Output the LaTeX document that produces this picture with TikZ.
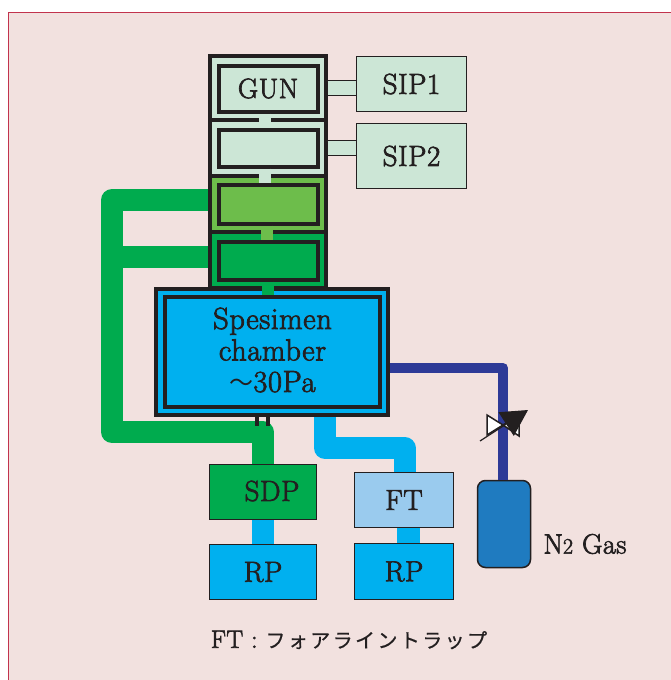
\documentclass[tikz,border=0pt]{standalone}
\usepackage{fontspec}
\usetikzlibrary{arrows.meta}
\setmainfont{Latin Modern Roman}[FakeBold=2.5,LetterSpace=2]
\newfontfamily\cjk{Noto Sans CJK JP}
\newfontfamily\cjknote{Noto Sans CJK JP}[LetterSpace=12,FakeBold=0.6]
\definecolor{ink}{HTML}{231F20}
\definecolor{paper}{HTML}{F2E1DF}
\definecolor{edge}{HTML}{C2334D}
\definecolor{pale}{HTML}{CCE6D6}
\definecolor{leaf}{HTML}{6DBD4B}
\definecolor{pump}{HTML}{00AB4E}
\definecolor{sky}{HTML}{00B0EF}
\definecolor{trap}{HTML}{9ACBEE}
\definecolor{navy}{HTML}{2E3A97}
\definecolor{tank}{HTML}{1F7BC0}
\tikzset{
  box/.style={draw=ink,line width=4pt,inner sep=0pt,text=ink},
  unit/.style={draw=ink,line width=1.5pt,inner sep=0pt,text=ink,font=\fontsize{29}{32}\selectfont},
  pipe/.style={line join=round,line width=#1},
  plug/.style={line width=12pt},
  word/.style={text=ink,inner sep=0pt}
}
\begin{document}
\begin{tikzpicture}[x=1pt,y=-1pt]
  \useasboundingbox (0,0) rectangle (671,680);
  \fill[paper] (8,12) rectangle (671,680);
  \draw[edge,line width=1.2pt] (8.6,680) -- (8.6,12.6) -- (671,12.6);
  % stack above the chamber
  \node[box,fill=pale,minimum width=116pt,minimum height=64pt] at (267.5,88) (row1) {};
  \node[box,fill=pale,minimum width=116pt,minimum height=56pt] at (267.5,148) (row2) {};
  \node[box,fill=leaf,minimum width=116pt,minimum height=56pt] at (267.5,204) (row3) {};
  \node[box,fill=pump,minimum width=116pt,minimum height=56pt] at (267.5,260) (row4) {};
  \node[box,fill=pale,minimum width=99pt,minimum height=46pt,font=\fontsize{28}{32}\selectfont] at (268,88.5) (gun) {GUN};
  \node[box,fill=pale,minimum width=99pt,minimum height=37pt] at (268,148) (cell2) {};
  \node[box,fill=leaf,minimum width=99pt,minimum height=39pt] at (268,204) (cell3) {};
  \node[box,fill=pump,minimum width=99pt,minimum height=38pt] at (268,260.5) (cell4) {};
  % chamber
  \node[box,fill=sky,minimum width=232pt,minimum height=126pt] at (272,352) (chamber) {};
  \node[box,fill=sky,minimum width=215pt,minimum height=110pt] at (272.5,352) (inner) {};
  \node[word,align=center,font=\fontsize{30.5}{31.5}\selectfont] at (272.5,350) (chambertext) {Spesimen\\chamber\\{\cjk\fontsize{24}{31.5}\selectfont 〜}30Pa};
  % pumps and the rest
  \node[unit,fill=pale,minimum width=110pt,minimum height=55pt] at (411.5,84) (sip1) {SIP1};
  \node[unit,fill=pale,minimum width=110pt,minimum height=65pt] at (411.5,156) (sip2) {SIP2};
  \node[unit,fill=pump,minimum width=107pt,minimum height=55pt] at (263,492) (sdp) {};
  \node[word,font=\fontsize{29}{32}\selectfont] at (272,491) (sdptext) {SDP};
  \node[unit,fill=sky,minimum width=107pt,minimum height=55pt] at (263,572) (rp1) {RP};
  \node[unit,fill=trap,minimum width=99pt,minimum height=55pt] at (404,500) (ft) {FT};
  \node[unit,fill=sky,minimum width=99pt,minimum height=56pt] at (404,571.5) (rp2) {RP};
  \node[draw=ink,line width=1.5pt,fill=tank,rounded corners=8pt,minimum width=53pt,minimum height=87pt,inner sep=0pt] at (504,524) (cylinder) {};
  \node[word,font=\fontsize{28}{32}\selectfont] at (585,544) (gas) {N{\fontsize{22}{22}\selectfont 2} Gas};
  \node[word,font=\fontsize{25}{28}\selectfont] at (349,640) (note) {FT : {\cjknote\fontsize{20}{24}\selectfont フォアライントラップ}};
  % bends
  \coordinate (g1) at (112,200);
  \coordinate (g2) at (112,432);
  \coordinate (g3) at (262.5,432);
  \coordinate (g4) at (112,256.5);
  \coordinate (b0) at (325,417);
  \coordinate (b1) at (325,448);
  \coordinate (b2) at (404.5,448);
  \coordinate (n1) at (503,368);
  \coordinate (m1) at (257,426);
  \coordinate (m2) at (268,426);
  % pipes
  \draw[pump,pipe=22pt] (row3.west |- g1) -- (g1) -- (g2) -- (g3) -- (sdp.north -| g3);
  \draw[pump,pipe=22pt] (g4) -- (row4.west |- g4);
  \draw[sky,pipe=22pt] (chamber.south -| b0) -- (b1) -- (b2) -- (ft.north -| b2);
  \draw[navy,pipe=10pt] (chamber.east |- n1) -- (n1) -- (cylinder.north -| n1);
  \draw[sky,line width=22pt] ([xshift=-0.5pt]sdp.south) -- ([xshift=-0.5pt]rp1.north);
  \draw[sky,line width=23pt] ([xshift=4.5pt]ft.south) -- ([xshift=4.5pt]rp2.north);
  \draw[ink,line width=4pt] (chamber.south -| m1) -- (m1);
  \draw[ink,line width=4pt] (chamber.south -| m2) -- (m2);
  % links between the cells
  \draw[pale,plug] ([xshift=-3pt]gun.south) -- ([xshift=-3pt]cell2.north);
  \draw[pale,plug] ([xshift=-3pt]cell2.south) -- ([xshift=-3pt]cell3.north);
  \draw[leaf,plug] ([xshift=-1pt]cell3.south) -- ([xshift=-1pt]cell4.north);
  \draw[pump,plug] (cell4.south) -- (cell4.south |- inner.north);
  \draw[ink,double=pale,double distance=14pt,line width=1.2pt] (row1.east) -- (row1.east -| sip1.west);
  \draw[ink,double=pale,double distance=14pt,line width=1.2pt] (row2.east) -- (row2.east -| sip2.west);
  % valve
  \coordinate (v0) at (503,425);
  \coordinate (v1) at (487,415);
  \coordinate (v2) at (487,435);
  \coordinate (v3) at (519,415);
  \coordinate (v4) at (519,436);
  \coordinate (a0) at (480,441);
  \coordinate (a1) at (528,410);
  \draw[ink,line width=1.5pt,fill=white] (v1) -- (v2) -- (v0) -- cycle;
  \draw[ink,line width=1.5pt,fill=white] (v3) -- (v4) -- (v0) -- cycle;
  \draw[ink,line width=1.2pt,-{Triangle[length=26pt,width=28pt]}] (a0) -- (a1);
\end{tikzpicture}
\end{document}
